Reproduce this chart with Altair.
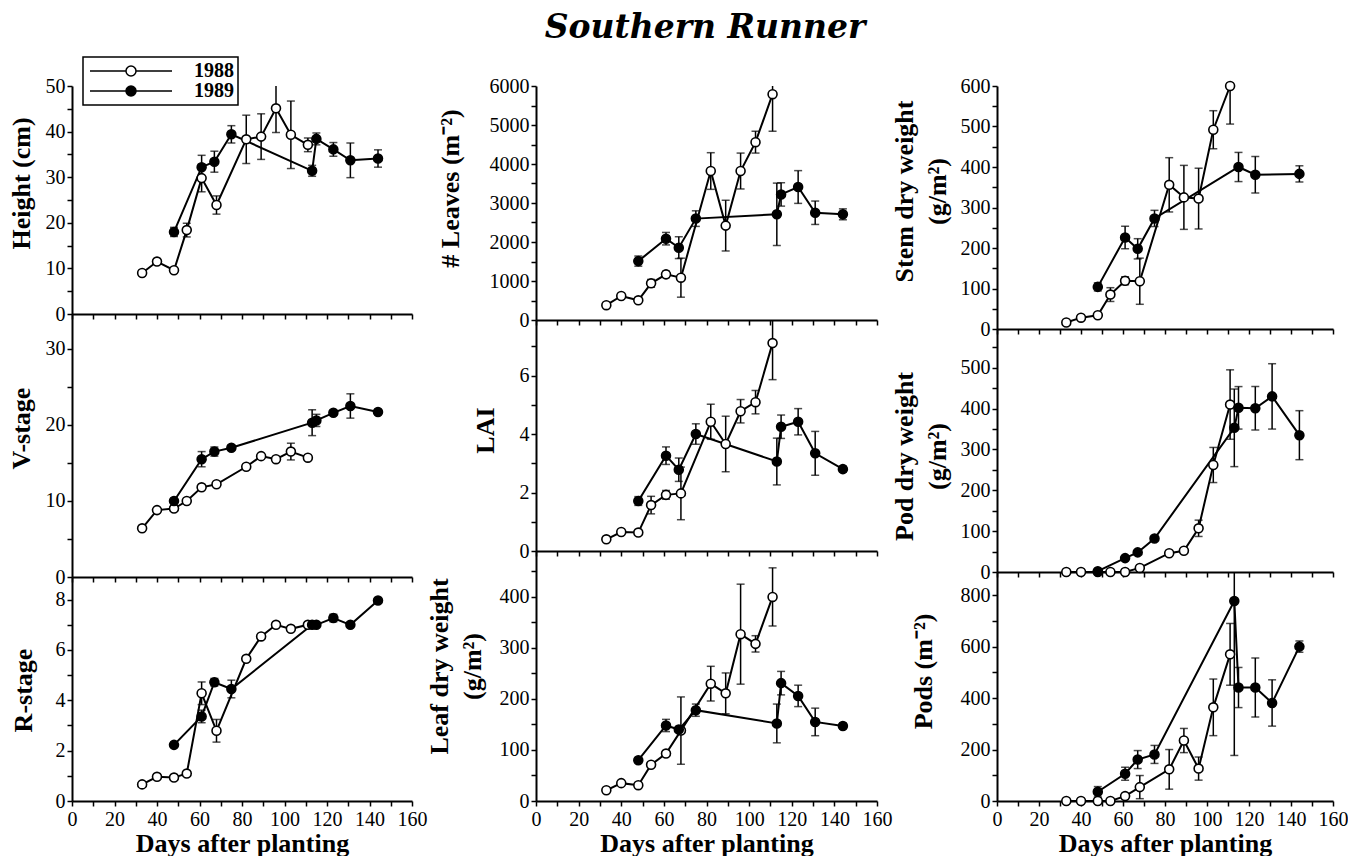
import altair as alt
import pandas as pd

TITLE = "Southern Runner"
YEARS = ["1988", "1989"]
DAYS_1988 = [33, 40, 48, 54, 61, 68, 82, 89, 96, 103, 111]
DAYS_1989 = [48, 61, 67, 75, 113, 115, 123, 131, 144]
X_TICKS = list(range(0, 161, 10))
X_TITLE = "Days after planting"

HEIGHT_1988 = [9.0, 11.5, 9.6, 18.4, 29.8, 23.9, 38.3, 38.9, 45.1, 39.3, 37.1]
HEIGHT_1988_ERR = [0, 0, 0, 1.5, 3.0, 2.0, 5.3, 5.0, 5.3, 7.4, 1.5]
HEIGHT_1989 = [18.0, 32.2, 33.4, 39.4, 31.4, 38.4, 36.1, 33.7, 34.1]
HEIGHT_1989_ERR = [1.0, 2.6, 2.3, 1.9, 1.2, 1.3, 1.5, 3.8, 1.9]

VSTAGE_1988 = [6.4, 8.8, 9.0, 10.0, 11.8, 12.2, 14.5, 15.9, 15.5, 16.5, 15.7]
VSTAGE_1988_ERR = [0, 0, 0.3, 0, 0, 0, 0, 0, 0, 1.1, 0]
VSTAGE_1989 = [10.0, 15.5, 16.5, 17.0, 20.3, 20.6, 21.6, 22.5, 21.7]
VSTAGE_1989_ERR = [0.2, 1.0, 0.6, 0.3, 1.7, 0.8, 0.3, 1.6, 0.3]

RSTAGE_1988 = [0.66, 0.96, 0.93, 1.09, 4.28, 2.79, 5.65, 6.54, 7.0, 6.84, 7.0]
RSTAGE_1988_ERR = [0, 0, 0, 0, 0.45, 0.45, 0, 0, 0, 0, 0]
RSTAGE_1989 = [2.23, 3.36, 4.72, 4.45, 7.0, 7.0, 7.27, 7.0, 7.97]
RSTAGE_1989_ERR = [0.1, 0.25, 0.15, 0.35, 0, 0, 0.15, 0, 0]

LEAVES_1988 = [380, 615, 505, 940, 1170, 1085, 3820, 2420, 3820, 4560, 5790]
LEAVES_1988_ERR = [0, 0, 0, 100, 80, 500, 470, 650, 460, 280, 950]
LEAVES_1989 = [1510, 2085, 1855, 2600, 2710, 3220, 3410, 2750, 2710]
LEAVES_1989_ERR = [130, 160, 280, 200, 800, 300, 420, 300, 140]

LAI_1988 = [0.40, 0.65, 0.63, 1.57, 1.92, 1.97, 4.42, 3.66, 4.78, 5.09, 7.11]
LAI_1988_ERR = [0, 0, 0, 0.3, 0.15, 0.9, 0.6, 0.95, 0.4, 0.4, 1.25]
LAI_1989 = [1.71, 3.26, 2.78, 4.0, 3.06, 4.25, 4.42, 3.34, 2.8]
LAI_1989_ERR = [0.15, 0.3, 0.4, 0.35, 0.8, 0.4, 0.45, 0.75, 0.1]

LEAFWT_1988 = [21, 35, 31, 71, 93, 138, 230, 211, 327, 308, 400]
LEAFWT_1988_ERR = [0, 0, 0, 0, 0, 66, 34, 40, 98, 16, 57]
LEAFWT_1989 = [80, 148, 140, 178, 152, 231, 206, 155, 147]
LEAFWT_1989_ERR = [0, 12, 0, 12, 38, 23, 21, 27, 5]

STEM_1988 = [16, 28, 34, 85, 119, 118, 356, 325, 322, 492, 600]
STEM_1988_ERR = [0, 0, 0, 17, 10, 57, 67, 79, 75, 47, 94]
STEM_1989 = [104, 226, 198, 273, None, 400, 381, None, 383]
STEM_1989_ERR = [10, 28, 25, 20, 0, 36, 45, 0, 20]

PODWT_1988 = [0, 0, 0, 0, 0, 10, 46, 52, 107, 262, 410]
PODWT_1988_ERR = [0, 0, 0, 0, 0, 0, 0, 0, 20, 43, 85]
PODWT_1989 = [2, 34, 48, 82, 353, 402, 401, 430, 335]
PODWT_1989_ERR = [0, 0, 0, 0, 95, 52, 53, 80, 60]

PODS_1988 = [0, 0, 0, 0, 19, 54, 123, 235, 126, 364, 570]
PODS_1988_ERR = [0, 0, 0, 0, 10, 45, 77, 47, 45, 110, 120]
PODS_1989 = [36, 106, 161, 181, 777, 441, 441, 381, 600]
PODS_1989_ERR = [20, 25, 35, 35, 600, 78, 115, 90, 22]

SERIF = "Liberation Serif"
LEGEND_SYMBOL = "M-8.2,0L-1,0M1,0L8.2,0M-1,0A1,1,0,1,1,1,0A1,1,0,1,1,-1,0Z"


def build_frames(v88, e88, v89, e89):
    rows, caps = [], []
    for year, days, vals, errs in ((YEARS[0], DAYS_1988, v88, e88),
                                   (YEARS[1], DAYS_1989, v89, e89)):
        for d, v, e in zip(days, vals, errs):
            if v is None:
                continue
            rows.append({"day": d, "value": v, "lo": v - e, "hi": v + e,
                         "err": e, "year": year})
            if e > 0:
                caps.append({"day": d, "cap": v - e, "year": year})
                caps.append({"day": d, "cap": v + e, "year": year})
    return pd.DataFrame(rows), pd.DataFrame(caps)


def panel(title, v88, e88, v89, e89, ydomain, yvals, ystep, width, height,
          title_x, title_y, bottom, legend=None):
    df, caps = build_frames(v88, e88, v89, e89)
    xaxis = alt.Axis(values=X_TICKS, format="d",
                     labelExpr="datum.value % 20 === 0 ? datum.label : ''",
                     labels=bottom, title=X_TITLE if bottom else None,
                     labelFlush=False, labelOverlap=False,
                     labelPadding=3, titlePadding=1)
    yaxis = alt.Axis(values=yvals, format="d",
                     labelExpr=f"datum.value % {ystep} === 0 ? datum.label : ''",
                     title=title, titleX=title_x, titleY=title_y,
                     titleAngle=270, titleBaseline="bottom", titleAlign="center",
                     titleLineHeight=33,
                     labelFlush=False, labelOverlap=False, labelPadding=2)
    xs = alt.Scale(domain=[0, 160], nice=False, zero=False)
    ys = alt.Scale(domain=ydomain, nice=False, zero=False)
    x = alt.X("day:Q", scale=xs, axis=xaxis)

    base = alt.Chart(df)
    line = base.mark_line(color="black", strokeWidth=2).encode(
        x=x, y=alt.Y("value:Q", scale=ys, axis=yaxis),
        detail="year:N", order="day:Q")
    bars = base.transform_filter("datum.err > 0").mark_rule(
        color="black", strokeWidth=1.5, clip=True).encode(
        x=x, y=alt.Y("lo:Q", scale=ys, axis=yaxis), y2="hi:Q")
    layers = [line, bars]
    if len(caps):
        cap = alt.Chart(caps).mark_tick(
            orient="horizontal", size=8, thickness=1.5, color="black",
            clip=True).encode(x=x, y=alt.Y("cap:Q", scale=ys, axis=yaxis))
        layers.append(cap)
    pts = base.mark_point(filled=True, shape="circle", size=80, stroke="black",
                          strokeWidth=1.6, opacity=1).encode(
        x=x, y=alt.Y("value:Q", scale=ys, axis=yaxis),
        fill=alt.Fill("year:N", scale=alt.Scale(domain=YEARS,
                                                range=["white", "black"]),
                      legend=legend))
    layers.append(pts)
    return alt.layer(*layers).properties(width=width, height=height)


legend = alt.Legend(title=None, orient="none", legendX=11, legendY=-29,
                    direction="vertical", symbolType=LEGEND_SYMBOL,
                    symbolSize=100, symbolStrokeColor="black",
                    symbolStrokeWidth=1.5, symbolOffset=34,
                    labelFont=SERIF, labelFontSize=20, labelFontWeight="bold",
                    labelColor="black", labelOffset=53, padding=4,
                    rowPadding=-1, strokeColor="black")

W1, W2, W3 = 340, 341, 336
col1 = alt.vconcat(
    panel("Height (cm)", HEIGHT_1988, HEIGHT_1988_ERR, HEIGHT_1989, HEIGHT_1989_ERR,
          [0, 50], list(range(0, 51, 5)), 10, W1, 228, -38, 97, False, legend),
    panel("V-stage", VSTAGE_1988, VSTAGE_1988_ERR, VSTAGE_1989, VSTAGE_1989_ERR,
          [0, 34.6], list(range(0, 31, 5)), 10, W1, 263, -38, 114, False),
    panel("R-stage", RSTAGE_1988, RSTAGE_1988_ERR, RSTAGE_1989, RSTAGE_1989_ERR,
          [0, 8.9], list(range(0, 9, 1)), 2, W1, 224, -36, 113, True),
    spacing=0, bounds="flush")
col2 = alt.vconcat(
    panel("# Leaves (m⁻²)", LEAVES_1988, LEAVES_1988_ERR, LEAVES_1989, LEAVES_1989_ERR,
          [0, 6000], list(range(0, 6001, 500)), 1000, W2, 234, -73, 102, False),
    panel("LAI", LAI_1988, LAI_1988_ERR, LAI_1989, LAI_1989_ERR,
          [0, 7.9], list(range(0, 8, 1)), 2, W2, 231, -38, 110, False),
    panel(["Leaf dry weight", "(g/m²)"], LEAFWT_1988, LEAFWT_1988_ERR, LEAFWT_1989, LEAFWT_1989_ERR,
          [0, 490], list(range(0, 451, 50)), 100, W2, 250, -84, 115, True),
    spacing=0, bounds="flush")
col3 = alt.vconcat(
    panel(["Stem dry weight", "(g/m²)"], STEM_1988, STEM_1988_ERR, STEM_1989, STEM_1989_ERR,
          [0, 600], list(range(0, 601, 50)), 100, W3, 243, -80, 105, False),
    panel(["Pod dry weight", "(g/m²)"], PODWT_1988, PODWT_1988_ERR, PODWT_1989, PODWT_1989_ERR,
          [0, 595], list(range(0, 551, 50)), 100, W3, 243, -80, 127, False),
    panel("Pods (m⁻²)", PODS_1988, PODS_1988_ERR, PODS_1989, PODS_1989_ERR,
          [0, 890], list(range(0, 801, 100)), 200, W3, 229, -61, 99, True),
    spacing=0, bounds="flush")

chart = alt.hconcat(col1, col2, col3, spacing=-1).properties(
    title=alt.TitleParams(TITLE, font="DejaVu Serif", fontSize=33,
                          fontStyle="italic", fontWeight="bold",
                          anchor="middle", color="black", offset=11, dx=27),
    padding={"left": 0, "top": 4, "right": 0, "bottom": 0},
).configure_view(stroke=None).configure_axis(
    domainColor="black", domainWidth=2, tickColor="black", tickWidth=1.5,
    tickSize=5, grid=False, labelFont=SERIF, labelFontSize=20,
    labelColor="black", titleFont=SERIF, titleFontSize=26,
    titleFontWeight="bold", titleColor="black",
).configure_legend(strokeWidth=1.5)

chart.save("out.html", embed_options={"renderer": "svg", "actions": False})
